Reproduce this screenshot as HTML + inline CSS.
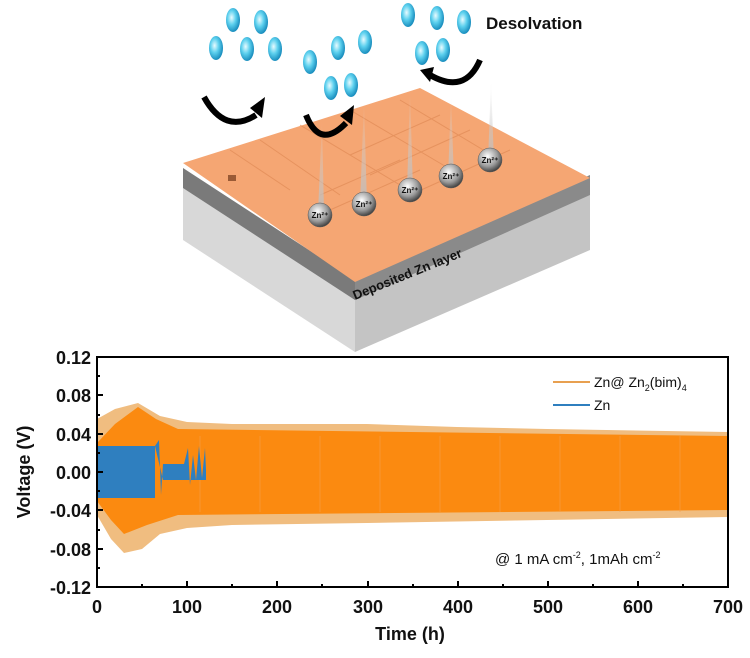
<!DOCTYPE html>
<html><head><meta charset="utf-8"><style>
html,body{margin:0;padding:0;background:#fff;}
body{width:750px;height:653px;overflow:hidden;font-family:"Liberation Sans",Arial,sans-serif;}
</style></head><body>
<svg width="750" height="653" viewBox="0 0 750 653" xmlns="http://www.w3.org/2000/svg">
<defs>
<linearGradient id="beam" x1="0" y1="1" x2="0" y2="0"><stop offset="0" stop-color="#bbb" stop-opacity="0.9"/><stop offset="1" stop-color="#ddd" stop-opacity="0"/></linearGradient>
<radialGradient id="ball" cx="0.4" cy="0.35" r="0.7"><stop offset="0" stop-color="#fff"/><stop offset="0.6" stop-color="#999"/><stop offset="1" stop-color="#333"/></radialGradient>
<radialGradient id="drop" cx="0.4" cy="0.4" r="0.6"><stop offset="0" stop-color="#e8fbff"/><stop offset="0.5" stop-color="#5cd0ee"/><stop offset="1" stop-color="#1b8fbf"/></radialGradient>
</defs>
<!-- block -->
<polygon points="183,175 355,290 355,352 183,240" fill="#d8d8d8"/>
<polygon points="355,290 590,185 590,250 355,352" fill="#c4c4c4"/>
<polygon points="183,168 355,280 355,300 183,188" fill="#7a7a7a"/>
<polygon points="355,280 590,175 590,195 355,300" fill="#8a8a8a"/>
<polygon points="183,163 420,88 590,178 355,282" fill="#f5a673"/>
<g stroke="#e08a55" stroke-width="1" fill="none" opacity="0.7">
<path d="M230,150 l60,40 M260,140 l80,55 M300,125 l100,60 M350,110 l110,65 M400,100 l100,60 M440,115 l-90,40 M470,130 l-100,45 M510,150 l-100,45 M400,160 l-80,35 M330,210 l90,-40"/>
</g>
<rect x="228" y="175" width="8" height="6" fill="#9a5a35"/>
<text x="0" y="0" transform="translate(355,300) rotate(-22)" font-size="13" font-weight="bold" fill="#111">Deposited Zn layer</text>
<g fill="url(#beam)">
<polygon points="318,213 324,213 322,120"/><polygon points="360,205 367,205 364,100"/>
<polygon points="407,191 413,191 410,90"/><polygon points="448,180 454,180 451,95"/><polygon points="488,162 494,162 491,80"/>
</g>
<g fill="url(#ball)" stroke="#555" stroke-width="0.5">
<circle cx="320" cy="215" r="12"/><circle cx="364" cy="204" r="12"/><circle cx="410" cy="190" r="12"/><circle cx="451" cy="176" r="12"/><circle cx="490" cy="160" r="12"/>
</g>
<g font-size="8" font-weight="bold" fill="#111" text-anchor="middle">
<text x="320" y="218">Zn²⁺</text><text x="364" y="207">Zn²⁺</text><text x="410" y="193">Zn²⁺</text><text x="451" y="179">Zn²⁺</text><text x="490" y="163">Zn²⁺</text>
</g>
<g fill="url(#drop)">
<ellipse cx="233" cy="20" rx="7" ry="12"/><ellipse cx="261" cy="22" rx="7" ry="12"/><ellipse cx="216" cy="48" rx="7" ry="12"/><ellipse cx="247" cy="49" rx="7" ry="12"/><ellipse cx="275" cy="49" rx="7" ry="12"/>
<ellipse cx="310" cy="62" rx="7" ry="12"/><ellipse cx="338" cy="48" rx="7" ry="12"/><ellipse cx="365" cy="42" rx="7" ry="12"/><ellipse cx="331" cy="88" rx="7" ry="12"/><ellipse cx="351" cy="85" rx="7" ry="12"/>
<ellipse cx="408" cy="15" rx="7" ry="12"/><ellipse cx="437" cy="18" rx="7" ry="12"/><ellipse cx="464" cy="22" rx="7" ry="12"/><ellipse cx="422" cy="53" rx="7" ry="12"/><ellipse cx="443" cy="50" rx="7" ry="12"/>
</g>
<g fill="none" stroke="#000" stroke-width="6">
<path d="M204,97 Q225,135 256,115"/><path d="M306,115 Q320,150 346,123"/><path d="M480,60 Q465,95 430,75"/>
</g>
<g fill="#000"><polygon points="250,108 265,97 262,118"/><polygon points="340,116 354,105 352,125"/><polygon points="434,67 420,70 430,82"/></g>
<text x="486" y="29" font-size="17" font-weight="bold" fill="#111">Desolvation</text>
<!-- chart -->
<g>
<path d="M97,419 L115,409 L138,403 L160,416 L187,422 L232,424 L367,424 L457,427 L547,429 L728,432 L728,517 L547,520 L367,523 L232,525 L187,528 L160,534 L142,549 L124,553 L111,539 L97,515 Z" fill="#f0bd80"/>
<path d="M97,443 L115,424 L138,407 L156,419 L178,429 L728,436 L728,510 L178,515 L147,525 L124,534 L111,520 L97,501 Z" fill="#fb8a10"/>
<g stroke="#f5a04a" stroke-width="1" opacity="0.6">
<path d="M200,436 v76 M260,436 v76 M320,436 v76 M380,436 v76 M440,436 v76 M500,436 v76 M560,436 v76 M620,436 v76 M680,436 v76"/>
</g>
<path d="M97,446 L155,446 L155,498 L97,498 Z" fill="#2f7fbf"/>
<path d="M155,446 L159,440 L161,495 L163,464 L187,464 L187,480 L163,480 Z" fill="#2f7fbf"/>
<path d="M184,464 L188,448 L190,485 L193,455 L196,480 L199,446 L202,478 L205,448 L206,470 L206,480 L184,480 Z" fill="#2f7fbf"/>
<rect x="97" y="357" width="631" height="230" fill="none" stroke="#000" stroke-width="2"/>
<g stroke="#000" stroke-width="2">
<path d="M97,357 h6 M97,395 h6 M97,434 h6 M97,472 h6 M97,510 h6 M97,549 h6 M97,587 h6"/>
<path d="M97,376 h3 M97,415 h3 M97,453 h3 M97,491 h3 M97,530 h3 M97,568 h3"/>
<path d="M97,587 v-6 M187,587 v-6 M277,587 v-6 M368,587 v-6 M458,587 v-6 M548,587 v-6 M638,587 v-6 M728,587 v-6"/>
<path d="M142,587 v-3 M232,587 v-3 M322,587 v-3 M413,587 v-3 M503,587 v-3 M593,587 v-3 M683,587 v-3"/>
</g>
<g font-size="18" font-weight="bold" text-anchor="end" fill="#111">
<text x="91" y="364">0.12</text><text x="91" y="402">0.08</text><text x="91" y="441">0.04</text><text x="91" y="479">0.00</text><text x="91" y="517">-0.04</text><text x="91" y="556">-0.08</text><text x="91" y="594">-0.12</text>
</g>
<g font-size="18" font-weight="bold" text-anchor="middle" fill="#111">
<text x="97" y="613">0</text><text x="187" y="613">100</text><text x="277" y="613">200</text><text x="368" y="613">300</text><text x="458" y="613">400</text><text x="548" y="613">500</text><text x="638" y="613">600</text><text x="728" y="613">700</text>
<text x="410" y="640">Time (h)</text>
<text transform="translate(30,472) rotate(-90)">Voltage (V)</text>
</g>
<line x1="553" y1="382" x2="590" y2="382" stroke="#e8a050" stroke-width="2"/>
<line x1="553" y1="405" x2="590" y2="405" stroke="#2f7fbf" stroke-width="2"/>
<text x="594" y="387" font-size="14" fill="#111">Zn@ Zn<tspan font-size="9" dy="4">2</tspan><tspan dy="-4">(bim)</tspan><tspan font-size="9" dy="4">4</tspan></text>
<text x="594" y="410" font-size="14" fill="#111">Zn</text>
<text x="495" y="564" font-size="15" fill="#111">@ 1 mA cm<tspan font-size="9" dy="-6">-2</tspan><tspan dy="6">, 1mAh cm</tspan><tspan font-size="9" dy="-6">-2</tspan></text>
</g>
</svg>
</body></html>
